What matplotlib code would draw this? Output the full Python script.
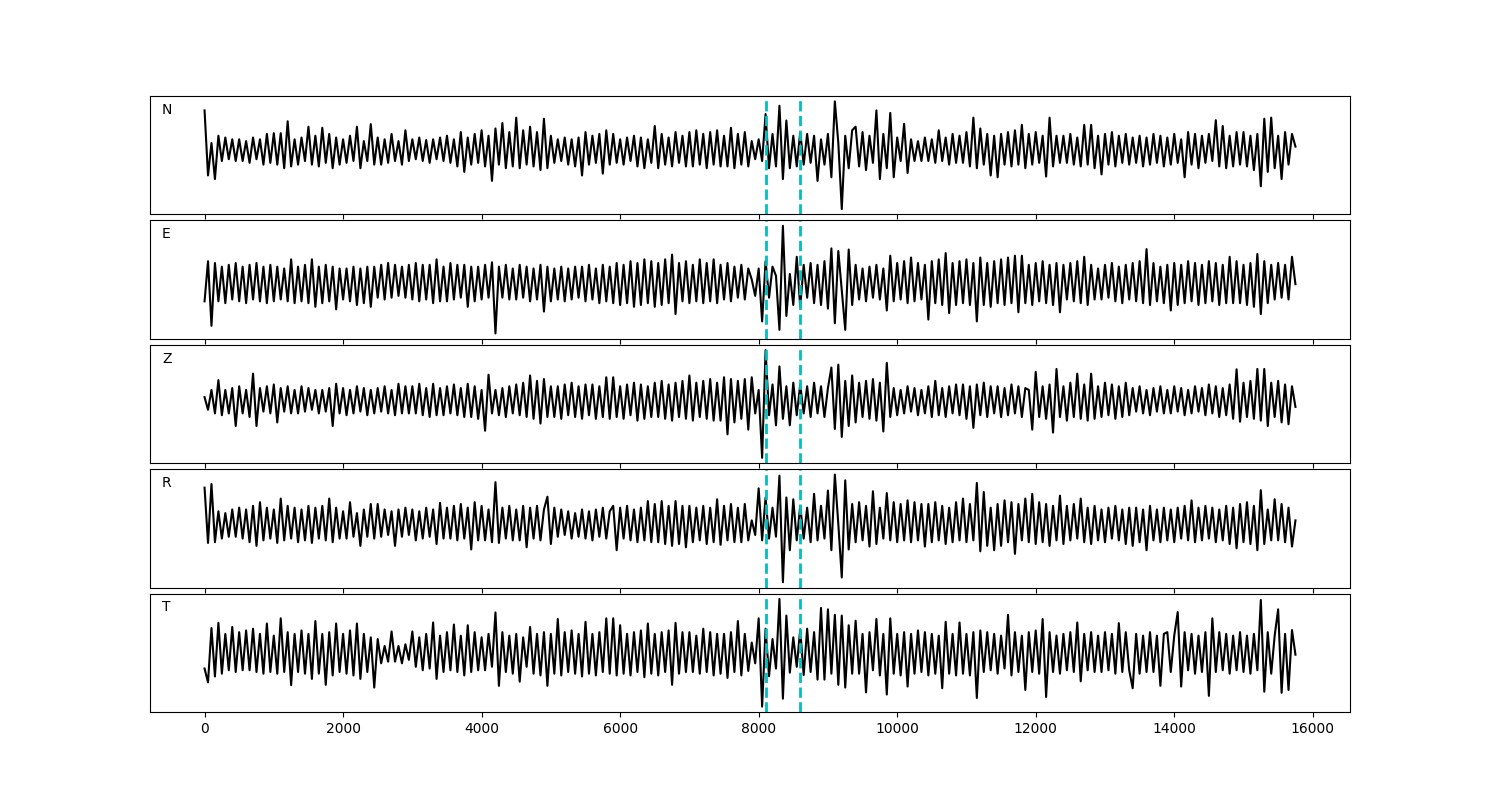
import numpy as np
import matplotlib
matplotlib.use('Agg')
import matplotlib.pyplot as plt

# one value every 50 samples, peaks (arbitrary units)
sample_step = 50
channels = ['N', 'E', 'Z', 'R', 'T']
picks = [8100, 8600]

n_trace = [
    110, -70, 20, -80, 40, -30, 35, -25, 30, -30,
    30, -30, 25, -35, 35, -25, 30, -40, 45, -35,
    47, -40, 47, -50, 80, -45, 30, -40, 35, -30,
    65, -40, 40, -45, 62, -35, 45, -50, 35, -40,
    30, -35, 40, -30, 65, -50, 25, -30, 72, -40,
    35, -40, 30, -35, 45, -30, 25, -40, 55, -30,
    30, -25, 35, -30, 28, -35, 30, -25, 35, -30,
    40, -35, 30, -45, 50, -60, 35, -40, 45, -35,
    55, -45, 40, -85, 60, -40, 75, -50, 50, -45,
    90, -50, 55, -40, 65, -45, 50, -55, 87, -50,
    40, -35, 30, -30, 35, -40, 30, -45, 35, -70,
    50, -40, 40, -35, 45, -65, 55, -40, 45, -35,
    30, -40, 35, -30, 40, -45, 35, -50, 30, -35,
    67, -50, 45, -40, 35, -45, 50, -35, 40, -45,
    50, -45, 55, -40, 45, -50, 50, -40, 55, -45,
    40, -45, 62, -50, 45, -40, 50, -45,
    25, -25, 30, -30, 100, -50, 45, -45, 123, -80,
    82, -50, 40, -45, 50, -40, 45, -35, 40, -85,
    30, -40, 45, -75, 135, 20, -163, 40, -50, 55,
    65, -45, 50, -55, 40, -35, 110, -80, 45, -50,
    103, -75, 35, -30, 73, -63, 30, -30, 25, -30,
    35, -30, 30, -35, 55, -30, 35, -40, 45, -35,
    40, -35, 50, -45, 90, -50, 60, -40, 45, -70,
    40, -75, 45, -40, 50, -45, 55, -40, 70, -50,
    45, -40, 50, -35, 40, -73, 90, -45, 40, -35,
    40, -35, 45, -40, 35, -45, 70, -40, 70, -50,
    40, -67, 45, -40, 50, -45, 40, -35, 45, -40,
    35, -35, 40, -45, 35, -40, 45, -35, 40, -45,
    35, -40, 45, -35, 30, -75, 50, -40, 45, -50,
    40, -35, 45, -30, 83, -45, 67, -50, 40, -45,
    50, -40, 50, -45, 40, -55, 45, -100, 87, -60,
    90, -50, 40, -80, 50, -40, 45, 10,
]

e_trace = [
    -50, 60, -117, 55, -50, 45, -55, 50, -45, 55,
    -50, 45, -55, 50, -45, 55, -50, 45, -55, 50,
    -50, 45, -45, 40, -50, 65, -55, 45, -50, 50,
    -55, 65, -65, 45, -55, 50, -50, 45, -72, 40,
    -45, 40, -50, 45, -60, 40, -55, 45, -65, 45,
    -40, 50, -45, 55, -40, 50, -35, 45, -40, 50,
    -45, 55, -50, 50, -45, 50, -55, 65, -50, 45,
    -50, 55, -45, 50, -40, 50, -65, 45, -50, 45,
    -45, 50, -40, 57, -138, 45, -40, 50, -45, 40,
    -45, 50, -40, 45, -50, 40, -45, 50, -78, 45,
    -50, 40, -45, 45, -50, 40, -45, 45, -40, 45,
    -50, 50, -45, 40, -55, 50, -50, 45, -55, 55,
    -60, 50, -55, 60, -65, 55, -60, 65, -55, 60,
    -65, 55, -60, 65, -55, 78, -85, 55, -50, 60,
    -55, 50, -50, 65, -55, 55, -50, 65, -55, 50,
    -45, 55, -50, 45, -40, 50, -45, 40,
    10, -35, 40, -105, 60, -40, 45, 20, -128, 157,
    -90, 25, -60, 72, -65, 50, -40, 55, -55, 50,
    -60, 60, -70, 95, -110, 88, -20, -128, 92, -60,
    50, -45, 40, -50, 45, -40, 50, -45, 40, -75,
    75, -50, 55, -45, 60, -55, 70, -50, 55, -45,
    50, -100, 60, -55, 65, -60, 82, -82, 55, -60,
    60, -55, 65, -60, 55, -105, 70, -60, 55, -65,
    60, -55, 65, -60, 70, -55, 75, -80, 75, -55,
    50, -60, 55, -50, 60, -55, 50, -60, 55, -80,
    50, -45, 55, -50, 60, -55, 72, -60, 50, -45,
    40, -45, 50, -40, 55, -50, 45, -55, 50, -45,
    55, -50, 60, -55, 93, -60, 55, -50, 45, -55,
    50, -75, 55, -60, 50, -55, 60, -50, 55, -60,
    50, -55, 60, -50, 55, -60, 50, -55, 72, -55,
    60, -55, 50, -60, 55, -65, 80, -85, 60, -55,
    50, -45, 55, -40, 50, -45, 72, -3,
]

z_trace = [
    10, -25, 30, -35, 57, -40, 30, -35, 35, -70,
    40, -35, 30, -45, 75, -70, 35, -30, 40, -35,
    45, -60, 35, -30, 40, -35, 30, -35, 40, -30,
    35, -25, 30, -35, 30, -30, 35, -70, 47, -35,
    35, -40, 30, -35, 40, -30, 35, -40, 30, -35,
    35, -30, 40, -35, 30, -40, 47, -35, 40, -35,
    40, -35, 47, -40, 35, -45, 47, -40, 35, -40,
    40, -35, 45, -40, 35, -45, 47, -45, 40, -50,
    30, -83, 72, -35, 30, -40, 35, -45, 40, -35,
    45, -40, 50, -45, 70, -50, 55, -63, 60, -45,
    40, -45, 40, -50, 45, -40, 50, -45, 40, -50,
    45, -40, 45, -50, 40, -45, 65, -50, 65, -45,
    40, -50, 45, -40, 50, -55, 45, -50, 40, -45,
    50, -45, 55, -50, 45, -55, 50, -45, 55, -50,
    70, -55, 50, -45, 55, -50, 60, -55, 50, -55,
    65, -93, 60, -60, 55, -50, 60, -80,
    65, -35, 30, -158, 140, -40, 45, -68, 95, -50,
    40, -68, 50, -40, 45, -35, 40, -45, 50, -35,
    40, -45, 35, 92, -78, 100, -100, 55, -70, 70,
    -60, 50, -45, 55, -50, 60, -55, 50, -85, 105,
    -45, 35, -40, 30, -35, 40, -30, 35, -40, 30,
    -35, 40, -45, 55, -40, 35, -45, 40, -35, 45,
    -40, 45, -50, 40, -75, 45, -40, 50, -45, 40,
    -35, 40, -45, 35, -40, 45, -35, 40, -45, 35,
    30, -80, 80, -45, 40, -50, 45, -88, 88, -45,
    40, -55, 50, -45, 75, -50, 45, -55, 75, -50,
    40, -45, 50, -40, 45, -50, 40, -45, 50, -40,
    35, -30, 40, -35, 30, -40, 35, -30, 40, -35,
    30, -35, 40, -30, 35, -40, 30, -35, 40, -30,
    35, -40, 45, -35, 40, -45, 35, -40, 45, -50,
    87, -58, 50, -45, 55, -50, 88, -55, 88, -70,
    50, -45, 55, -60, 45, -65, 40, -17,
]

r_trace = [
    100, -52, 110, -50, 35, -40, 30, -35, 40, -35,
    45, -40, 40, -50, 50, -60, 60, -45, 45, -40,
    40, -52, 70, -45, 50, -40, 45, -50, 40, -45,
    50, -52, 45, -40, 50, -45, 70, -50, 45, -40,
    35, -40, 60, -35, 30, -60, 40, -35, 55, -40,
    55, -35, 40, -30, 35, -60, 40, -35, 45, -30,
    40, -45, 35, -40, 45, -35, 40, -55, 58, -40,
    45, -40, 50, -45, 55, -40, 45, -70, 60, -45,
    50, -45, 40, -50, 115, -52, 45, -40, 50, -45,
    40, -45, 50, -64, 45, -40, 50, -45, 40, 75,
    -55, 45, -35, 40, -30, 35, -40, 30, -35, 40,
    -40, 35, -45, 40, -35, 45, -40, 35, 50, -72,
    45, -40, 50, -45, 40, -50, 45, -45, 63, -50,
    55, -50, 63, -55, 50, -60, 63, -55, 50, -64,
    50, -50, 45, -45, 50, -55, 45, -50, 68, -57,
    50, -45, 55, -50, 45, -50, 55, -45,
    10, -30, 98, -45, 73, -40, 45, -35, 133, -160,
    73, -72, 68, -45, 50, -40, 45, -50, 83, -45,
    50, -40, 92, -72, 136, 0, -147, 120, -70, 55,
    -50, 60, -45, 50, -62, 90, -55, 45, -40, 85,
    -45, 60, -50, 55, -45, 65, -50, 60, -45, 55,
    -62, 55, -50, 60, -45, 50, -55, 45, -50, 60,
    -45, 70, -50, 55, -45, 113, -75, 88, -60, 45,
    -72, 55, -60, 65, -50, 60, -82, 55, -45, 70,
    -50, 83, -55, 60, -50, 55, -60, 50, -45, 78,
    -55, 50, -45, 55, -40, 70, -50, 45, -55, 50,
    -45, 40, -50, 45, -40, 50, -45, 40, -55, 45,
    -60, 45, -50, 40, -72, 50, -45, 40, -50, 45,
    -45, 40, -50, 45, -40, 50, -45, 65, -50, 45,
    -45, 50, -40, 45, -50, 40, -45, 50, -55, 45,
    -67, 55, -50, 60, -55, 50, -72, 93, -55, 40,
    -45, 68, -45, 55, -50, 45, -62, 10,
]

t_trace = [
    -45, -85, 72, -68, 87, -60, 55, -50, 75, -55,
    60, -50, 65, -50, 70, -55, 55, -60, 85, -55,
    50, -60, 100, -55, 60, -93, 55, -55, 65, -60,
    55, -75, 92, -60, 55, -92, 60, -65, 85, -55,
    55, -60, 65, -65, 85, -75, 55, -55, 45, -100,
    40, -30, 20, -25, 62, -25, 20, -30, 25, -20,
    62, -40, 45, -50, 55, -45, 88, -75, 50, -55,
    60, -50, 82, -55, 50, -65, 80, -55, 60, -50,
    45, -50, 55, -40, 117, -95, 60, -55, 50, -60,
    55, -83, 45, -40, 75, -60, 55, -65, 60, -95,
    55, -60, 98, -65, 60, -55, 65, -60, 55, -68,
    90, -60, 55, -65, 60, -55, 100, -60, 100, -65,
    80, -60, 55, -65, 60, -55, 65, -70, 85, -60,
    55, -65, 60, -55, 65, -92, 87, -60, 60, -55,
    60, -55, 50, -60, 70, -55, 60, -65, 55, -60,
    55, -72, 60, -55, 92, -65, 55, -52,
    30, -30, 100, -155, 70, -67, 40, -45, 156, -132,
    108, -57, 45, -40, 68, -64, 70, -55, 60, -77,
    130, -77, 126, -60, 110, -92, 108, -100, 80, -60,
    93, -60, 55, -114, 60, -50, 98, -65, 55, -120,
    100, -60, 55, -65, 60, -97, 55, -60, 65, -55,
    60, -65, 55, -60, 50, -102, 90, -60, 55, -65,
    88, -60, 55, -65, 60, -130, 65, -55, 60, -50,
    55, -60, 50, -45, 110, -65, 60, -55, 50, -107,
    60, -55, 65, -60, 98, -127, 60, -55, 50, -60,
    55, -50, 60, -55, 88, -82, 55, -50, 60, -55,
    50, -55, 60, -50, 55, -60, 86, -55, 60, -50,
    -102, 55, -60, 50, -55, 60, -55, 50, -95, 55,
    60, -55, 50, 118, -97, 60, -50, 55, -60, 50,
    -55, 60, -124, 100, -55, 60, -50, 55, -60, 50,
    -50, 60, -55, 50, -60, 55, -50, 153, -112, 60,
    -60, 50, 126, -115, 55, -107, 66, -5,
]

traces = [n_trace, e_trace, z_trace, r_trace, t_trace]

fig, axes = plt.subplots(5, 1, figsize=(15, 8), sharex=True)
fig.subplots_adjust(left=0.1, right=0.9, hspace=0.05)

for ax, name, tr in zip(axes, channels, traces):
    t = np.arange(len(tr)) * sample_step
    ax.plot(t, tr, color='k', lw=1.5)
    for p in picks:
        ax.axvline(p, color='c', ls='--', lw=2)
    ax.set_yticks([])
    ax.text(0.01, 0.85, name, transform=ax.transAxes)

fig.savefig('out.png')
